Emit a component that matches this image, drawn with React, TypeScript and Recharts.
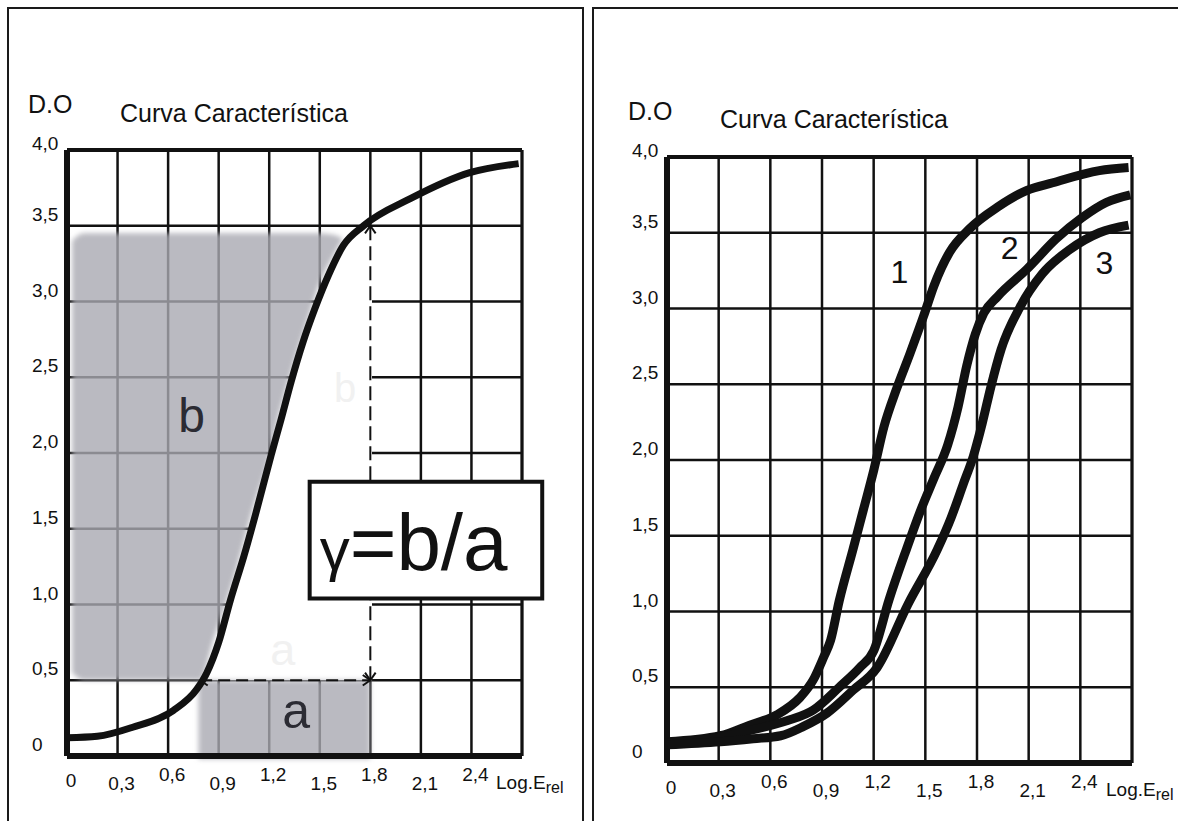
import React from "react";
import {
  ComposedChart,
  Line,
  Area,
  XAxis,
  YAxis,
  CartesianGrid,
  ReferenceLine,
  ReferenceArea,
  ReferenceDot,
} from "recharts";

const FONT = '"Liberation Sans", Arial, Helvetica, sans-serif';
const INK = "#111";
const SHADE = "#a9a9b1";

// Axes: log relative exposure (0,3 steps) and optical density (0,5 steps)
const logTicks = [0, 0.3, 0.6, 0.9, 1.2, 1.5, 1.8, 2.1, 2.4, 2.7];
const densityTicks = [0, 0.5, 1, 1.5, 2, 2.5, 3, 3.5, 4];
const chartTitle = "Curva Característica";
const densityTitle = "D.O";
const logTitle = "Log.E";
const logSub = "rel";

// Left panel: the characteristic curve
const curveX = [0, 0.18, 0.39, 0.63, 0.77, 0.83, 0.9, 0.97, 1.05, 1.12, 1.21, 1.27, 1.33, 1.4, 1.47, 1.55, 1.64, 1.76, 2.04, 2.39, 2.68];
const curveD = [0.12, 0.13, 0.19, 0.3, 0.44, 0.55, 0.75, 1.03, 1.32, 1.6, 1.98, 2.22, 2.47, 2.73, 2.95, 3.17, 3.37, 3.5, 3.68, 3.85, 3.91];

// shaded "b" block (density range) left of the curve
const shadeBX = [0.03, 0.1, 0.79, 0.87, 0.95, 1.01, 1.1, 1.2, 1.26, 1.34, 1.42, 1.5, 1.58, 1.63];
const shadeBLow = [0.55, 0.5, 0.5, 0.77, 1.03, 1.25, 1.62, 1.97, 2.26, 2.57, 2.85, 3.12, 3.3, 3.4];
const shadeBHigh = [3.4, 3.45, 3.45, 3.45, 3.45, 3.45, 3.45, 3.45, 3.45, 3.45, 3.45, 3.45, 3.44, 3.42];

// shaded "a" block (exposure range)
const shadeA = { x1: 0.78, x2: 1.8, d1: -0.02, d2: 0.5 };
// gamma construction: from D=0,5 on the curve to D=3,5 at log E 1,8
const gammaLow = { x: 0.79, d: 0.5 };
const gammaHigh = { x: 1.8, d: 3.5 };
// gamma formula box
const gammaBox = { x1: 1.44, x2: 2.82, d1: 1.04, d2: 1.81 };

// Right panel: three characteristic curves
const curve1X = [0, 0.31, 0.48, 0.64, 0.77, 0.85, 0.91, 0.95, 1.0, 1.08, 1.14, 1.2, 1.26, 1.33, 1.41, 1.49, 1.55, 1.64, 1.76, 1.92, 2.09, 2.24, 2.51, 2.68];
const curve1D = [0.14, 0.18, 0.25, 0.32, 0.43, 0.55, 0.7, 0.81, 1.07, 1.41, 1.67, 1.93, 2.22, 2.46, 2.7, 2.95, 3.15, 3.37, 3.53, 3.67, 3.78, 3.83, 3.91, 3.93];
const curve2X = [0, 0.31, 0.5, 0.7, 0.85, 1.0, 1.12, 1.2, 1.29, 1.39, 1.47, 1.55, 1.63, 1.69, 1.74, 1.79, 1.84, 1.92, 2.09, 2.26, 2.41, 2.55, 2.69];
const curve2D = [0.13, 0.17, 0.22, 0.28, 0.35, 0.5, 0.63, 0.74, 1.08, 1.41, 1.66, 1.88, 2.1, 2.35, 2.62, 2.83, 2.97, 3.08, 3.26, 3.46, 3.6, 3.7, 3.75];
const curve3X = [0, 0.31, 0.5, 0.66, 0.79, 0.93, 1.08, 1.22, 1.4, 1.57, 1.65, 1.72, 1.78, 1.83, 1.88, 1.94, 2.05, 2.18, 2.34, 2.51, 2.68];
const curve3D = [0.12, 0.14, 0.16, 0.18, 0.24, 0.33, 0.48, 0.63, 1.05, 1.41, 1.62, 1.84, 2.03, 2.24, 2.48, 2.73, 3.01, 3.23, 3.39, 3.5, 3.55];
const curveNames = ["1", "2", "3"];
const nameX = [1.35, 1.99, 2.54];
const nameD = [3.24, 3.4, 3.3];

// ---------------------------------------------------------------------------
// helpers
// ---------------------------------------------------------------------------

const zip = (xs: number[], ds: number[]) => xs.map((x, i) => ({ x, d: ds[i] }));

const comma = (v: number) => (v === 0 ? "0" : v.toFixed(1).replace(".", ","));

function LogTick(props: any) {
  const { x, y, payload, index } = props;
  const v = payload.value as number;
  if (v > 2.5) {
    return (
      <text x={x - 26} y={y + 33} fontFamily={FONT} fontSize={19} fill={INK}>
        {logTitle}
        <tspan fontSize={16} dy={4}>
          {logSub}
        </tspan>
      </text>
    );
  }
  // labels are staggered up / down like the hand-drawn original
  const drop = index === 0 ? 24 : index % 2 ? 27 : 18;
  return (
    <text x={x + 4} y={y + drop + 7} textAnchor="middle" fontFamily={FONT} fontSize={19} fill={INK}>
      {comma(v)}
    </text>
  );
}

function DensityTick(props: any) {
  const { x, y, payload } = props;
  const v = payload.value as number;
  const lift = v === 4 ? 0 : 5;
  return (
    <text x={x - 35} y={y - lift} fontFamily={FONT} fontSize={19} fill={INK}>
      {comma(v)}
    </text>
  );
}

const centerText = (text: string, size: number, color: string) => (props: any) => {
  const vb = props.viewBox;
  return (
    <text
      x={vb.x + vb.width / 2}
      y={vb.y + vb.height / 2}
      textAnchor="middle"
      dominantBaseline="central"
      fontFamily={FONT}
      fontSize={size}
      fill={color}
    >
      {text}
    </text>
  );
};

const gammaLabel = (props: any) => {
  const vb = props.viewBox;
  return (
    <text x={vb.x + 10} y={vb.y + 88} fontFamily={FONT} fill={INK}>
      <tspan fontSize={60}>γ</tspan>
      <tspan fontSize={80}>=b/a</tspan>
    </text>
  );
};

function Frame() {
  return [
    <ReferenceLine key="f-top" y={4} stroke={INK} strokeWidth={4} ifOverflow="visible" />,
    <ReferenceLine key="f-right" x={2.7} stroke={INK} strokeWidth={3} ifOverflow="visible" />,
    <ReferenceLine key="f-left" x={0} stroke={INK} strokeWidth={6} ifOverflow="visible" />,
    <ReferenceLine key="f-bottom" y={0} stroke={INK} strokeWidth={6} ifOverflow="visible" />,
  ];
}

const axes = [
  <CartesianGrid key="grid" stroke={INK} strokeWidth={2.5} fill="none" />,
  <XAxis
    key="xa"
    type="number"
    dataKey="x"
    domain={[0, 2.7]}
    ticks={logTicks}
    interval={0}
    height={40}
    tickSize={0}
    tickMargin={0}
    axisLine={false}
    tickLine={false}
    allowDataOverflow
    tick={(p: any) => <LogTick {...p} />}
  />,
  <YAxis
    key="ya"
    type="number"
    dataKey="d"
    domain={[0, 4]}
    ticks={densityTicks}
    interval={0}
    width={40}
    tickSize={0}
    tickMargin={0}
    axisLine={false}
    tickLine={false}
    allowDataOverflow
    tick={(p: any) => <DensityTick {...p} />}
  />,
];

// ---------------------------------------------------------------------------
// Left panel: gamma = b / a
// ---------------------------------------------------------------------------

function LeftPanel() {
  const curve = zip(curveX, curveD);
  const shadeB = shadeBX.map((x, i) => ({ x, r: [shadeBLow[i], shadeBHigh[i]] }));
  // white patch that hides the grid between the curve and the dashed line
  const erase = curve
    .filter((p) => p.x >= 0.78 && p.x <= 1.76)
    .map((p) => ({ x: p.x, r: [gammaLow.d, Math.min(p.d, gammaHigh.d - 0.02)] }));
  erase.push({ x: gammaHigh.x + 0.01, r: [gammaLow.d, gammaHigh.d - 0.02] });

  const ax = 0.045;
  const ay = 0.05;
  const dash = { stroke: INK, strokeWidth: 2, ifOverflow: "visible" as const };

  return (
    <ComposedChart width={583} height={821} margin={{ top: 150, right: 61, bottom: 25, left: 27 }}>
      {axes}
      <Area data={erase} dataKey="r" type="monotone" fill="#fff" fillOpacity={1} stroke="none" isAnimationActive={false} zIndex={50} />
      <ReferenceDot x={1.65} y={2.43} r={1} fill="none" stroke="none" label={centerText("b", 40, "#f1f1f1")} />
      <ReferenceDot x={1.28} y={0.7} r={1} fill="none" stroke="none" label={centerText("a", 45, "#f1f1f1")} />
      <Area
        data={shadeB}
        dataKey="r"
        type="monotone"
        fill={SHADE}
        fillOpacity={0.8}
        stroke="none"
        filter="url(#soft)"
        isAnimationActive={false}
        zIndex={100}
      />
      <ReferenceArea
        x1={shadeA.x1}
        x2={shadeA.x2}
        y1={shadeA.d1}
        y2={shadeA.d2}
        fill={SHADE}
        fillOpacity={0.8}
        stroke="none"
        filter="url(#soft)"
        ifOverflow="visible"
        zIndex={100}
      />
      <ReferenceLine
        segment={[{ x: gammaLow.x, y: gammaLow.d }, { x: gammaHigh.x, y: gammaLow.d }]}
        strokeDasharray="12 6"
        {...dash}
      />
      <ReferenceLine
        segment={[{ x: gammaHigh.x, y: gammaLow.d }, { x: gammaHigh.x, y: gammaHigh.d }]}
        strokeDasharray="14 6"
        {...dash}
      />
      {/* arrow heads */}
      <ReferenceLine segment={[{ x: gammaHigh.x, y: gammaHigh.d }, { x: gammaHigh.x - ax * 0.7, y: gammaHigh.d - ay }]} {...dash} />
      <ReferenceLine segment={[{ x: gammaHigh.x, y: gammaHigh.d }, { x: gammaHigh.x + ax * 0.7, y: gammaHigh.d - ay }]} {...dash} />
      <ReferenceLine segment={[{ x: gammaHigh.x, y: gammaLow.d }, { x: gammaHigh.x - ax * 0.7, y: gammaLow.d + ay }]} {...dash} />
      <ReferenceLine segment={[{ x: gammaHigh.x, y: gammaLow.d }, { x: gammaHigh.x + ax * 0.7, y: gammaLow.d + ay }]} {...dash} />
      <ReferenceLine segment={[{ x: gammaHigh.x, y: gammaLow.d }, { x: gammaHigh.x - ax, y: gammaLow.d + ay * 0.7 }]} {...dash} />
      <ReferenceLine segment={[{ x: gammaHigh.x, y: gammaLow.d }, { x: gammaHigh.x - ax, y: gammaLow.d - ay * 0.7 }]} {...dash} />
      <ReferenceLine segment={[{ x: gammaLow.x, y: gammaLow.d }, { x: gammaLow.x + ax, y: gammaLow.d + ay * 0.7 }]} {...dash} />
      <ReferenceLine segment={[{ x: gammaLow.x, y: gammaLow.d }, { x: gammaLow.x + ax, y: gammaLow.d - ay * 0.7 }]} {...dash} />
      {Frame()}
      <Line data={curve} dataKey="d" type="monotone" stroke={INK} strokeWidth={7} dot={false} isAnimationActive={false} />
      <ReferenceArea
        x1={gammaBox.x1}
        x2={gammaBox.x2}
        y1={gammaBox.d1}
        y2={gammaBox.d2}
        fill="#fff"
        fillOpacity={1}
        stroke={INK}
        strokeWidth={4}
        ifOverflow="visible"
        label={gammaLabel}
        zIndex={500}
      />
      <ReferenceDot x={0.74} y={2.25} r={1} fill="none" stroke="none" label={centerText("b", 48, "#2b2b33")} zIndex={2000} />
      <ReferenceDot x={1.36} y={0.3} r={1} fill="none" stroke="none" label={centerText("a", 50, "#2b2b33")} zIndex={2000} />
    </ComposedChart>
  );
}

// ---------------------------------------------------------------------------
// Right panel: three films
// ---------------------------------------------------------------------------

function RightPanel() {
  const curves = [zip(curve1X, curve1D), zip(curve2X, curve2D), zip(curve3X, curve3D)];
  return (
    <ComposedChart width={587} height={821} margin={{ top: 157, right: 46, bottom: 18, left: 36 }}>
      {axes}
      {Frame()}
      {curves.map((c, i) => (
        <Line
          key={curveNames[i]}
          data={c}
          dataKey="d"
          type="monotone"
          stroke={INK}
          strokeWidth={9}
          dot={false}
          isAnimationActive={false}
        />
      ))}
      {curveNames.map((n, i) => (
        <ReferenceDot
          key={"n" + n}
          x={nameX[i]}
          y={nameD[i]}
          r={1}
          fill="none"
          stroke="none"
          label={centerText(n, 32, INK)}
          zIndex={2000}
        />
      ))}
    </ComposedChart>
  );
}

export default function App() {
  const border = "2px solid #1a1a1a";
  return (
    <div style={{ position: "absolute", left: 0, top: 0, width: 1178, height: 821, overflow: "hidden", background: "#fff" }}>
      <svg width={0} height={0} style={{ position: "absolute" }}>
        <defs>
          <filter id="soft" x="-10%" y="-10%" width="120%" height="120%">
            <feGaussianBlur stdDeviation="2.5" />
          </filter>
        </defs>
      </svg>
      <div
        style={{
          position: "absolute",
          left: 7,
          top: 7,
          width: 577,
          height: 814,
          boxSizing: "border-box",
          borderLeft: border,
          borderTop: border,
          borderRight: border,
        }}
      />
      <div
        style={{
          position: "absolute",
          left: 592,
          top: 7,
          width: 586,
          height: 814,
          boxSizing: "border-box",
          borderLeft: border,
          borderTop: border,
        }}
      />
      <div style={{ position: "absolute", left: 0, top: 0 }}>
        <LeftPanel />
      </div>
      <div style={{ position: "absolute", left: 591, top: 0 }}>
        <RightPanel />
      </div>
      <svg width={1178} height={821} style={{ position: "absolute", left: 0, top: 0, pointerEvents: "none" }}>
        <g fontFamily={FONT} fill={INK} fontSize={25}>
          <text x={28} y={113}>{densityTitle}</text>
          <text x={120} y={122}>{chartTitle}</text>
          <text x={628} y={120}>{densityTitle}</text>
          <text x={720} y={128}>{chartTitle}</text>
        </g>
      </svg>
    </div>
  );
}
